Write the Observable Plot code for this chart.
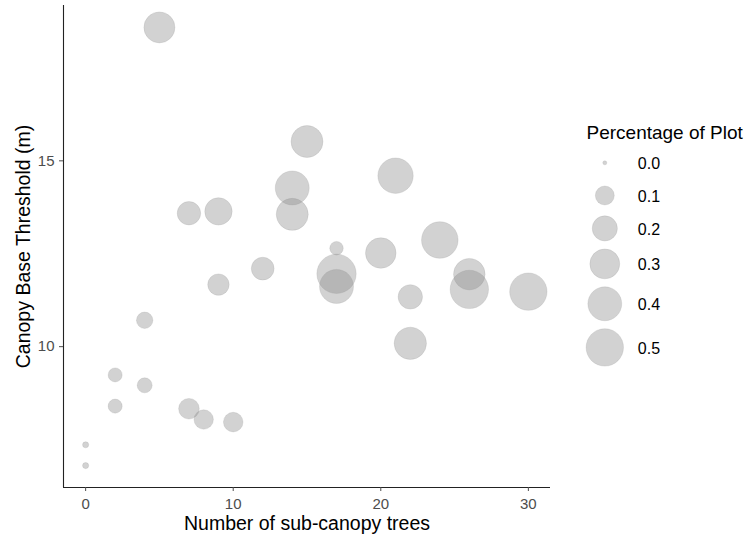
<!DOCTYPE html>
<html><head><meta charset="utf-8">
<script src="https://cdn.jsdelivr.net/npm/d3@7"></script>
<script src="https://cdn.jsdelivr.net/npm/@observablehq/plot@0.6"></script>
<style>
body{margin:0;background:#fff;font-family:"Liberation Sans",Arial,sans-serif;}
#wrap{position:relative;width:749px;height:539px;overflow:hidden;}
#legend{position:absolute;left:560px;top:0;}
</style></head><body><div id="wrap"><div id="main"></div><div id="legend"></div></div>
<script>
// Data
const subCanopyTrees = [5, 7, 9, 14, 14, 15, 21, 12, 17, 17, 17, 20, 24, 22, 26, 26, 30, 22, 9, 4, 2, 4, 2, 7, 8, 10, 0, 0];
const canopyBaseThreshold = [18.59, 13.59, 13.64, 14.27, 13.56, 15.52, 14.60, 12.10, 12.65, 11.96, 11.62, 12.52, 12.87, 11.34, 11.95, 11.54, 11.48, 10.09, 11.67, 10.71, 9.24, 8.96, 8.40, 8.33, 8.04, 7.97, 7.36, 6.80];
const percentageOfPlot = [0.327, 0.169, 0.245, 0.403, 0.351, 0.351, 0.442, 0.158, 0.040, 0.56, 0.403, 0.317, 0.476, 0.187, 0.341, 0.53, 0.50, 0.36, 0.136, 0.069, 0.045, 0.054, 0.045, 0.124, 0.106, 0.109, 0.002, 0.002];
const xTicks = [0, 10, 20, 30];
const yTicks = [10, 15];
const legendValues = [0.0, 0.1, 0.2, 0.3, 0.4, 0.5];
const legendLabels = ["0.0", "0.1", "0.2", "0.3", "0.4", "0.5"];

const data = subCanopyTrees.map((x, i) => ({x, y: canopyBaseThreshold[i], p: percentageOfPlot[i]}));
const expand = (a) => { const [lo, hi] = d3.extent(a); const e = (hi - lo) * 0.05; return [lo - e, hi + e]; };
const rOpts = {type: "sqrt", domain: [0, 0.5], range: [2, 18.7]};
const grey = "#8c8c8c";
const font = "Liberation Sans, Arial, sans-serif";

const main = Plot.plot({
  width: 560, height: 539,
  marginLeft: 63, marginRight: 10, marginTop: 5, marginBottom: 52,
  style: {fontFamily: font, background: "#fff", overflow: "visible"},
  x: {domain: expand(subCanopyTrees)},
  y: {domain: expand(canopyBaseThreshold)},
  r: rOpts,
  marks: [
    Plot.dot(data, {x: "x", y: "y", r: "p", fill: grey, fillOpacity: 0.39, stroke: grey, strokeOpacity: 0.18, strokeWidth: 1}),
    Plot.ruleY([expand(canopyBaseThreshold)[0]], {stroke: "#222", strokeWidth: 1.1}),
    Plot.ruleX([expand(subCanopyTrees)[0]], {stroke: "#222", strokeWidth: 1.1}),
    Plot.axisX({ticks: xTicks, tickSize: 4, tickPadding: 7, fontSize: 15, color: "#4d4d4d", label: null}),
    Plot.axisY({ticks: yTicks, tickSize: 4, tickPadding: 5, fontSize: 15, color: "#4d4d4d", label: null}),
    Plot.text(["Number of sub-canopy trees"], {frameAnchor: "bottom", dy: 42, fontSize: 19.5, fill: "#000"}),
    Plot.text(["Canopy Base Threshold (m)"], {frameAnchor: "left", dx: -40, rotate: -90, textAnchor: "middle", fontSize: 19.5, fill: "#000"})
  ]
});
document.getElementById("main").appendChild(main);

// legend layout derived from the size scale
const rFn = d3.scaleSqrt().domain(rOpts.domain).range(rOpts.range);
const keyH = legendValues.map(v => Math.max(32.7, 2 * rFn(v) + 8));
const centers = [];
let c = 162.3;
keyH.forEach((h, i) => { if (i > 0) c += (keyH[i - 1] + h) / 2; centers.push(c); });
const legData = legendValues.map((v, i) => ({v, label: legendLabels[i], y: centers[i]}));

const legend = Plot.plot({
  width: 189, height: 539,
  margin: 0,
  style: {fontFamily: font, background: "transparent", overflow: "visible"},
  x: {type: "identity", axis: null}, y: {type: "identity", axis: null}, r: rOpts,
  marks: [
    Plot.dot(legData, {x: () => 44.3, y: "y", r: "v", fill: grey, fillOpacity: 0.39, stroke: grey, strokeOpacity: 0.18, strokeWidth: 1}),
    Plot.text(legData, {x: () => 77.3, y: d => d.y + 1, text: "label", textAnchor: "start", fontSize: 16, fill: "#000"}),
    Plot.text(["Percentage of Plot"], {x: () => 26, y: () => 132, textAnchor: "start", fontSize: 19, fill: "#000"})
  ]
});
document.getElementById("legend").appendChild(legend);
</script></body></html>
